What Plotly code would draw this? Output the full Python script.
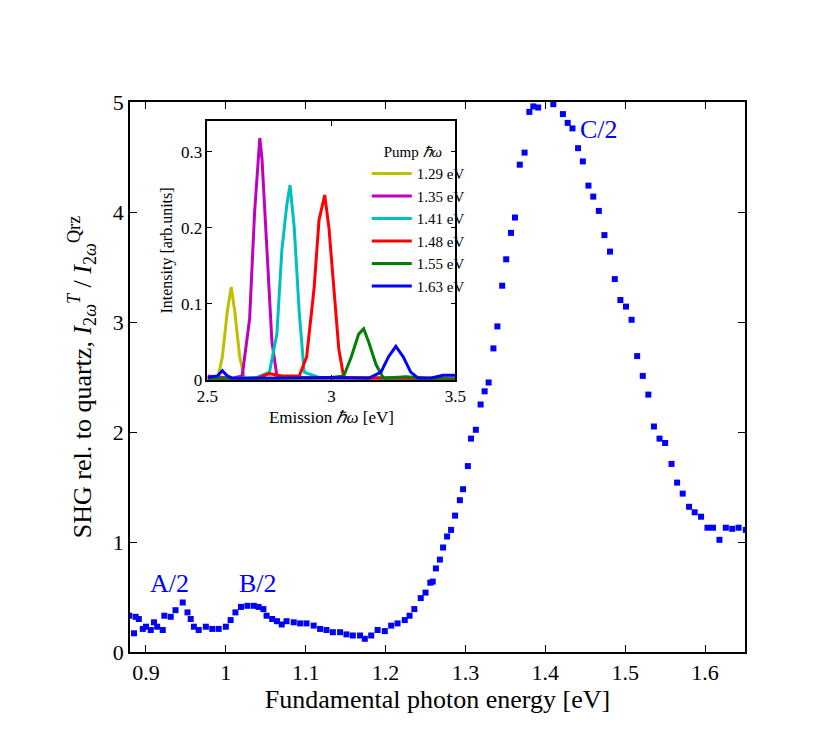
import plotly.graph_objects as go

energy = [0.879,0.885,0.887,0.891,0.896,0.900,0.906,0.910,0.914,0.921,0.923,0.931,0.937,0.946,0.952,0.956,0.960,0.966,0.975,0.983,0.991,1.000,1.006,1.012,1.019,1.027,1.035,1.041,1.047,1.051,1.058,1.064,1.070,1.076,1.085,1.093,1.101,1.110,1.118,1.126,1.134,1.143,1.151,1.159,1.168,1.174,1.182,1.190,1.199,1.207,1.215,1.224,1.230,1.236,
          1.244,1.250,1.256,1.259,1.263,1.268,1.272,1.277,1.282,1.287,1.293,1.297,1.303,1.307,1.313,1.319,1.324,1.329,1.335,1.340,1.346,1.351,1.357,1.362,1.368,1.374,1.380,1.385,1.391,1.410,1.422,1.428,1.434,1.441,1.447,1.454,1.460,1.467,1.474,1.481,1.487,1.494,1.501,1.508,1.515,1.522,1.529,1.536,1.543,1.550,1.558,1.565,1.572,1.580,1.587,1.595,1.603,1.610,1.618,1.626,1.634,1.642,1.651]
shg = [0.33,0.17,0.32,0.30,0.21,0.23,0.20,0.27,0.23,0.20,0.33,0.32,0.38,0.45,0.36,0.30,0.23,0.20,0.23,0.21,0.21,0.23,0.29,0.36,0.41,0.42,0.42,0.41,0.39,0.33,0.30,0.28,0.25,0.28,0.27,0.26,0.26,0.24,0.21,0.20,0.18,0.18,0.16,0.15,0.15,0.12,0.15,0.20,0.19,0.24,0.26,0.29,0.33,0.39,
       0.49,0.54,0.63,0.64,0.76,0.84,0.95,1.05,1.11,1.24,1.38,1.48,1.69,1.94,2.02,2.25,2.37,2.45,2.76,2.96,3.33,3.57,3.81,3.95,4.43,4.54,4.91,4.96,4.95,4.98,4.89,4.81,4.76,4.58,4.46,4.24,4.14,4.01,3.79,3.64,3.39,3.20,3.14,3.02,2.69,2.51,2.34,2.05,1.94,1.90,1.71,1.54,1.44,1.32,1.27,1.23,1.13,1.13,1.02,1.13,1.12,1.13,1.11]

pump_labels = ["1.29 eV","1.35 eV","1.41 eV","1.48 eV","1.55 eV","1.63 eV"]
pump_colors = ["#bfbf00","#bf00bf","#00bfbf","#ff0000","#008000","#0000ff"]
em_129 = [2.50,2.54,2.56,2.58,2.596,2.61,2.63,2.65,3.0,3.5]
in_129 = [0.0,0.0,0.03,0.09,0.122,0.09,0.03,0.002,0.001,0.001]
em_135 = [2.5,2.6,2.64,2.67,2.69,2.711,2.72,2.74,2.76,2.78,2.9,3.5]
in_135 = [0.005,0.002,0.005,0.08,0.22,0.318,0.29,0.17,0.05,0.005,0.002,0.002]
em_141 = [2.5,2.7,2.75,2.78,2.80,2.82,2.833,2.85,2.87,2.89,2.95,3.5]
in_141 = [0.0,0.003,0.01,0.06,0.17,0.23,0.256,0.2,0.09,0.01,0.003,0.002]
em_148 = [2.5,2.7,2.75,2.8,2.87,2.9,2.93,2.95,2.973,2.99,3.01,3.03,3.05,3.5]
in_148 = [0.0,0.002,0.008,0.005,0.005,0.03,0.12,0.21,0.243,0.2,0.12,0.04,0.003,0.001]
em_155 = [2.5,3.0,3.05,3.08,3.11,3.13,3.15,3.18,3.21,3.3,3.35,3.5]
in_155 = [0.001,0.003,0.005,0.03,0.06,0.067,0.05,0.02,0.002,0.004,0.003,0.0]
em_163 = [2.5,2.54,2.56,2.58,2.6,2.8,3.0,3.15,3.2,3.23,3.26,3.29,3.32,3.35,3.4,3.45,3.5]
in_163 = [0.003,0.005,0.012,0.005,0.002,0.002,0.003,0.002,0.01,0.03,0.044,0.03,0.01,0.002,0.002,0.006,0.006]
inset_x = [em_129,em_135,em_141,em_148,em_155,em_163]
inset_y = [in_129,in_135,in_141,in_148,in_155,in_163]

FONT = "Liberation Serif"
fig = go.Figure()
fig.add_trace(go.Scatter(x=energy, y=shg, mode="markers", showlegend=False,
                         marker=dict(symbol="square", size=6, color="#0000ff")))
for xs, ys, lab, col in zip(inset_x, inset_y, pump_labels, pump_colors):
    fig.add_trace(go.Scatter(x=xs, y=ys, mode="lines", name=lab, xaxis="x2", yaxis="y2",
                             line=dict(color=col, width=3)))

ax = dict(showline=True, linecolor="black", linewidth=1.5, mirror="ticks", ticks="inside",
          ticklen=7, tickcolor="black", showgrid=False, zeroline=False)
fig.update_layout(
    width=830, height=734, paper_bgcolor="white", plot_bgcolor="white",
    margin=dict(l=122, r=93, t=94, b=90),
    font=dict(family=FONT, size=22, color="black"),
    xaxis=dict(ax, range=[0.88, 1.65], tickvals=[0.9,1.0,1.1,1.2,1.3,1.4,1.5,1.6],
               ticktext=["0.9","1","1.1","1.2","1.3","1.4","1.5","1.6"],
               title=dict(text="Fundamental photon energy [eV]", standoff=6)),
    yaxis=dict(ax, range=[0, 5], tickvals=[0,1,2,3,4,5],
               title=dict(text="SHG rel. to quartz, <i>I</i><sub>2<i>ω</i></sub><sup><i>T</i></sup> / <i>I</i><sub>2<i>ω</i></sub><sup>Qrz</sup>", standoff=14)),
    xaxis2=dict(ax, domain=[0.126, 0.529], anchor="y2", range=[2.5, 3.5], tickvals=[2.5,3,3.5],
                ticklen=5, tickfont=dict(size=17),
                title=dict(text="Emission <i>ℏω</i> [eV]", font=dict(size=17), standoff=6)),
    yaxis2=dict(ax, domain=[0.495, 0.965], anchor="x2", range=[0, 0.34], tickvals=[0,0.1,0.2,0.3],
                ticktext=["0","0.1","0.2","0.3"], ticklen=5, tickfont=dict(size=17),
                title=dict(text="Intensity [arb.units]", font=dict(size=16), standoff=4)),
    legend=dict(x=0.385, y=0.935, xanchor="left", yanchor="top", bgcolor="rgba(0,0,0,0)",
                font=dict(size=15), title=dict(text="    Pump <i>ℏω</i>", font=dict(size=15)),
                tracegroupgap=0, itemwidth=40),
    annotations=[
        dict(x=0.93, y=0.62, text="A/2", showarrow=False, font=dict(size=26, color="#0000ff")),
        dict(x=1.04, y=0.62, text="B/2", showarrow=False, font=dict(size=26, color="#0000ff")),
        dict(x=1.467, y=4.75, text="C/2", showarrow=False, font=dict(size=26, color="#0000ff")),
    ],
)
fig.write_html("out.html")
